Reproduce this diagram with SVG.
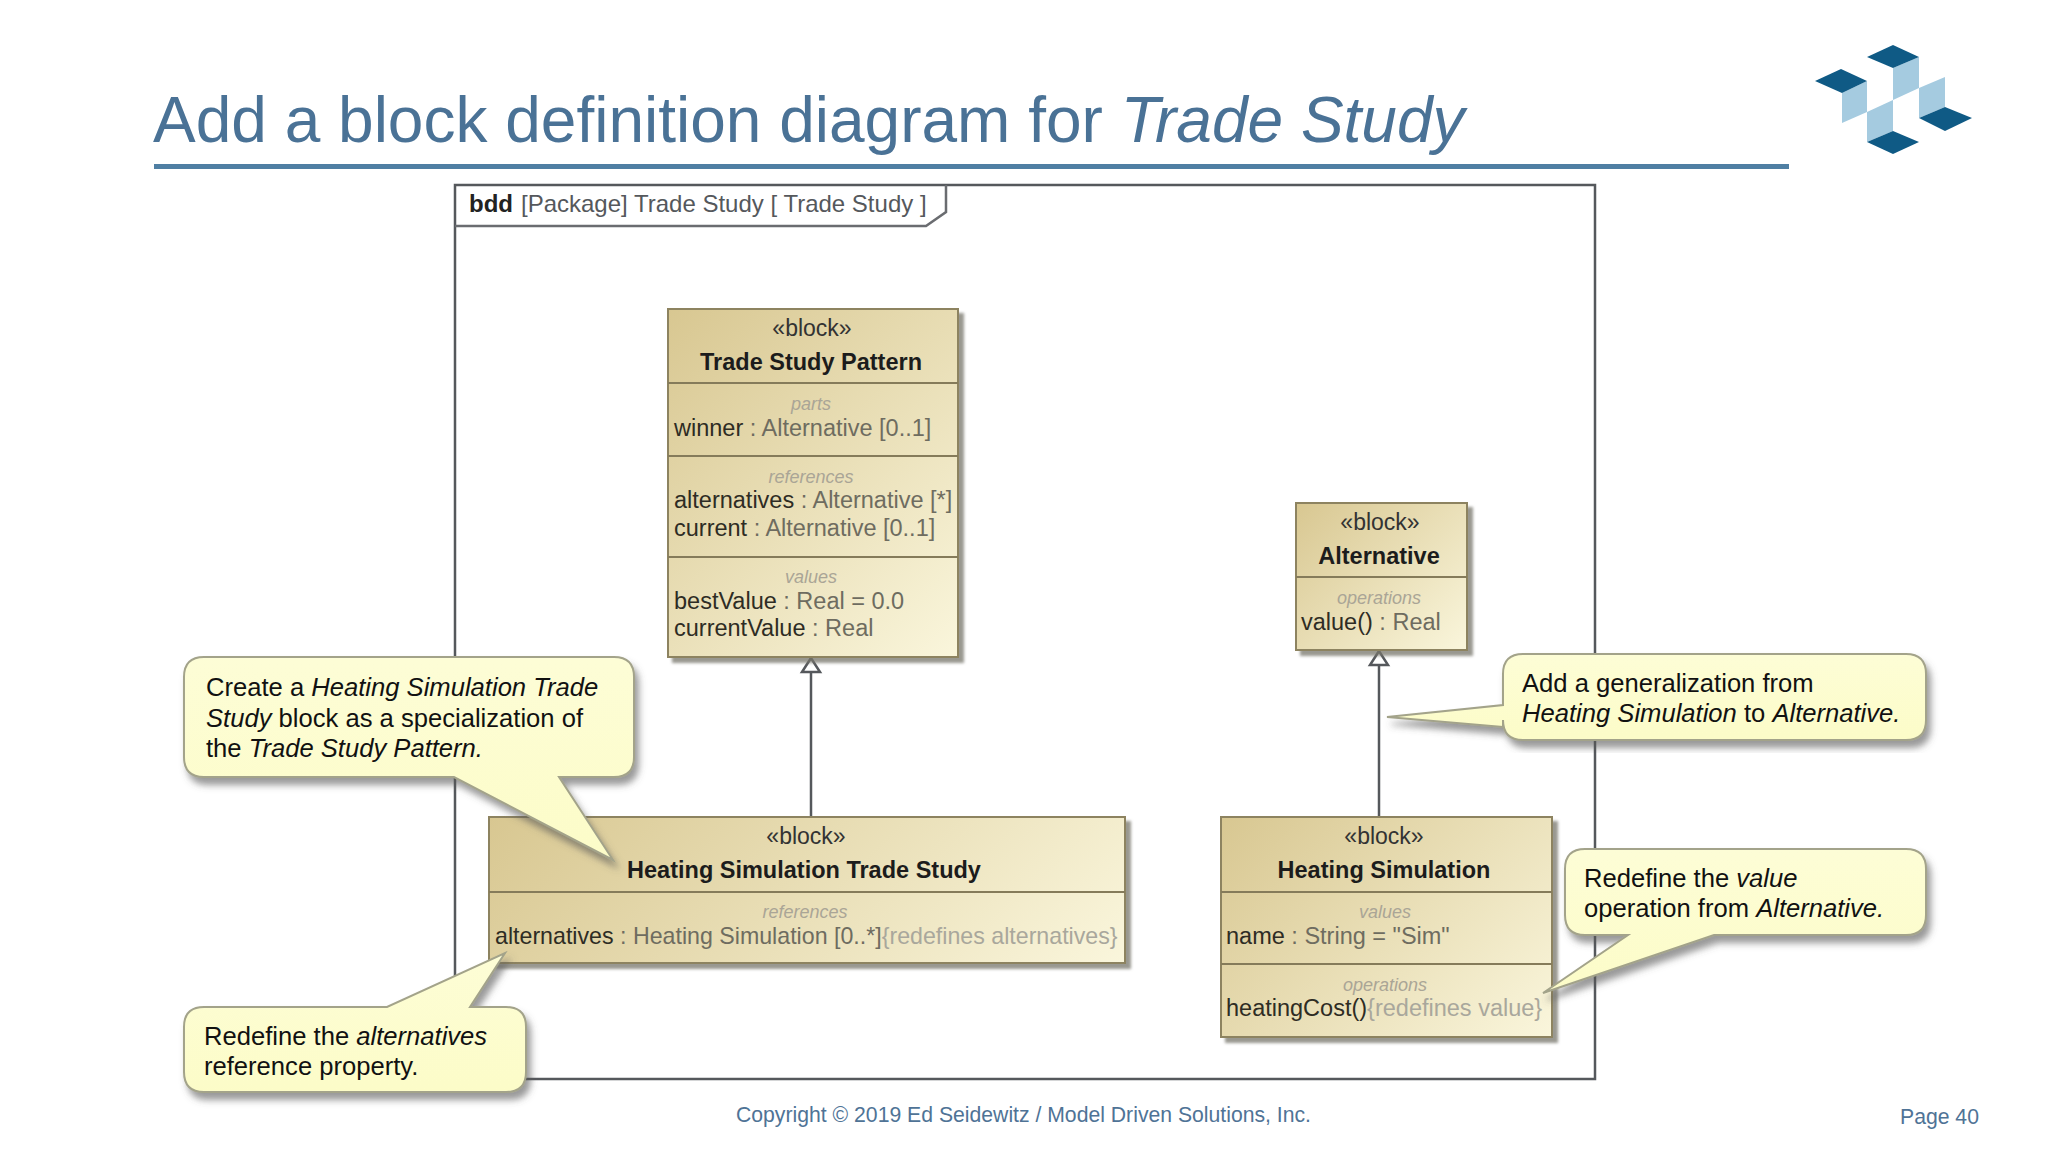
<svg xmlns="http://www.w3.org/2000/svg" xmlns:xlink="http://www.w3.org/1999/xlink" width="2048" height="1152" viewBox="0 0 2048 1152">
<style>
text{font-family:"Liberation Sans",Arial,sans-serif}
.title{font-size:64px;fill:#4a7296}
.foot{font-size:21.2px;fill:#4f7396}
.blk{stroke:#8d8360;stroke-width:2;filter:url(#bsh)}
.div{stroke:#857b5a;stroke-width:2;fill:none}
.st{font-size:23px;fill:#333;text-anchor:middle}
.nm{font-size:23.5px;font-weight:bold;fill:#1c1c1c;text-anchor:middle}
.cp{font-size:18px;font-style:italic;fill:#aaa596;text-anchor:middle}
.it{font-size:23.5px;fill:#6e6c60}
.k{fill:#2e2c24}
.g{fill:#a9a79c}
.co{fill:url(#cal);stroke:#a3a38a;stroke-width:2;filter:url(#csh)}
.ct{font-size:25.6px;fill:#111}
.i{font-style:italic}
.ln{stroke:#55585c;stroke-width:2.5;fill:none}
.tri{fill:#fff;stroke:#55585c;stroke-width:2.5}
.dk{fill:#0f5a85}
.lt{fill:#a5cbe0}
</style>
<defs>
<linearGradient id="blk"><stop offset="0" stop-color="#d8c791"/><stop offset="1" stop-color="#faf6dc"/></linearGradient>
<linearGradient id="g1" href="#blk" gradientUnits="userSpaceOnUse" x1="668" y1="309" x2="987" y2="628"/>
<linearGradient id="g2" href="#blk" gradientUnits="userSpaceOnUse" x1="1296" y1="503" x2="1455" y2="662"/>
<linearGradient id="g3" href="#blk" gradientUnits="userSpaceOnUse" x1="489" y1="817" x2="880" y2="1208"/>
<linearGradient id="g4" href="#blk" gradientUnits="userSpaceOnUse" x1="1221" y1="817" x2="1497" y2="1093"/>
<linearGradient id="cal" x1="0" y1="0" x2="0" y2="1"><stop offset="0" stop-color="#fdfdd6"/><stop offset="1" stop-color="#fcfcc8"/></linearGradient>
<filter id="bsh" x="-5%" y="-5%" width="115%" height="115%"><feDropShadow dx="5" dy="5" stdDeviation="1.5" flood-color="#77756a" flood-opacity=".75"/></filter>
<filter id="csh" x="-5%" y="-5%" width="115%" height="120%"><feDropShadow dx="4" dy="7" stdDeviation="3.5" flood-color="#555" flood-opacity=".6"/></filter>
</defs>
<rect width="2048" height="1152" fill="#fff"/>
<g id="header">
<text class="title" x="153" y="142">Add a block definition diagram for <tspan class="i">Trade Study</tspan></text>
<rect x="154" y="164" width="1635" height="5" fill="#4f7fa3"/>
</g>
<g id="logo">
<polygon class="lt" points="1893,68 1919,57 1919,88 1893,100"/>
<polygon class="lt" points="1842,93 1867,81 1867,112 1842,123"/>
<polygon class="lt" points="1867,112 1893,100 1893,131 1867,142"/>
<polygon class="lt" points="1919,88 1945,77 1945,107 1919,118"/>
<polygon class="dk" points="1867,57 1893,45 1919,57 1893,68"/>
<polygon class="dk" points="1815,81 1841,69 1867,81 1842,93"/>
<polygon class="dk" points="1919,118 1945,107 1972,118 1945,131"/>
<polygon class="dk" points="1867,142 1893,131 1919,142 1893,154"/>
</g>
<g id="frame">
<rect x="455" y="185" width="1140" height="894" fill="#fff" stroke="#55585c" stroke-width="2.5"/>
<path d="M455 226H926L946 212V185" fill="none" stroke="#6a6c70" stroke-width="2.5"/>
<text x="469" y="212" font-size="24" fill="#55585c"><tspan font-weight="bold" fill="#222">bdd</tspan>  <tspan x="521">[Package] Trade Study [ Trade Study ]</tspan></text>
</g>
<g id="connectors">
<path class="ln" d="M811 672V817"/>
<polygon class="tri" points="811,658 802,672 820,672"/>
<path class="ln" d="M1379 665V817"/>
<polygon class="tri" points="1379,651 1370,665 1388,665"/>
</g>
<g id="trade-study-pattern">
<rect class="blk" fill="url(#g1)" x="668" y="309" width="290" height="348"/>
<path class="div" d="M668 383H958M668 456H958M668 557H958"/>
<text class="st" x="812" y="336">«block»</text>
<text class="nm" x="811" y="370">Trade Study Pattern</text>
<text class="cp" x="811" y="410">parts</text>
<text class="it" x="674" y="436"><tspan class="k">winner</tspan> : Alternative [0..1]</text>
<text class="cp" x="811" y="483">references</text>
<text class="it" x="674" y="508"><tspan class="k">alternatives</tspan> : Alternative [*]</text>
<text class="it" x="674" y="536"><tspan class="k">current</tspan> : Alternative [0..1]</text>
<text class="cp" x="811" y="583">values</text>
<text class="it" x="674" y="609"><tspan class="k">bestValue</tspan> : Real = 0.0</text>
<text class="it" x="674" y="636"><tspan class="k">currentValue</tspan> : Real</text>
</g>
<g id="alternative">
<rect class="blk" fill="url(#g2)" x="1296" y="503" width="171" height="147"/>
<path class="div" d="M1296 577H1467"/>
<text class="st" x="1380" y="530">«block»</text>
<text class="nm" x="1379" y="564">Alternative</text>
<text class="cp" x="1379" y="604">operations</text>
<text class="it" x="1301" y="630"><tspan class="k">value()</tspan> : Real</text>
</g>
<g id="heating-simulation-trade-study">
<rect class="blk" fill="url(#g3)" x="489" y="817" width="636" height="146"/>
<path class="div" d="M489 892H1125"/>
<text class="st" x="806" y="844">«block»</text>
<text class="nm" x="804" y="878">Heating Simulation Trade Study</text>
<text class="cp" x="805" y="918">references</text>
<text class="it" x="495" y="944" style="font-size:23.2px"><tspan class="k">alternatives</tspan> : Heating Simulation [0..*]<tspan class="g">{redefines alternatives}</tspan></text>
</g>
<g id="heating-simulation">
<rect class="blk" fill="url(#g4)" x="1221" y="817" width="331" height="220"/>
<path class="div" d="M1221 892H1552M1221 964H1552"/>
<text class="st" x="1384" y="844">«block»</text>
<text class="nm" x="1384" y="878">Heating Simulation</text>
<text class="cp" x="1385" y="918">values</text>
<text class="it" x="1226" y="944"><tspan class="k">name</tspan> : String = "Sim"</text>
<text class="cp" x="1385" y="991">operations</text>
<text class="it" x="1226" y="1016"><tspan class="k">heatingCost()</tspan><tspan class="g">{redefines value}</tspan></text>
</g>
<g id="callout-specialization">
<path class="co" d="M204 657H614Q634 657 634 677V757Q634 777 614 777H559L613 860L454 777H204Q184 777 184 757V677Q184 657 204 657Z"/>
<text class="ct" x="206" y="696">Create a <tspan class="i">Heating Simulation Trade</tspan></text>
<text class="ct" x="206" y="727"><tspan class="i">Study</tspan> block as a specialization of</text>
<text class="ct" x="206" y="757">the <tspan class="i">Trade Study Pattern.</tspan></text>
</g>
<g id="callout-redefine-alternatives">
<path class="co" d="M204 1007H387L505 953L470 1007H506Q526 1007 526 1027V1072Q526 1092 506 1092H204Q184 1092 184 1072V1027Q184 1007 204 1007Z"/>
<text class="ct" x="204" y="1045">Redefine the <tspan class="i">alternatives</tspan></text>
<text class="ct" x="204" y="1075">reference property.</text>
</g>
<g id="callout-generalization">
<path class="co" d="M1523 654H1906Q1926 654 1926 674V720Q1926 740 1906 740H1523Q1503 740 1503 720V727L1387 717L1503 705V674Q1503 654 1523 654Z"/>
<text class="ct" x="1522" y="692">Add a generalization from</text>
<text class="ct" x="1522" y="722"><tspan class="i">Heating Simulation</tspan> to <tspan class="i">Alternative.</tspan></text>
</g>
<g id="callout-redefine-value">
<path class="co" d="M1585 849H1906Q1926 849 1926 869V915Q1926 935 1906 935H1714L1543 993L1628 935H1585Q1565 935 1565 915V869Q1565 849 1585 849Z"/>
<text class="ct" x="1584" y="887">Redefine the <tspan class="i">value</tspan></text>
<text class="ct" x="1584" y="917">operation from <tspan class="i">Alternative.</tspan></text>
</g>
<g id="footer">
<text class="foot" x="736" y="1122">Copyright © 2019 Ed Seidewitz / Model Driven Solutions, Inc.</text>
<text class="foot" x="1900" y="1124">Page 40</text>
</g>
</svg>
